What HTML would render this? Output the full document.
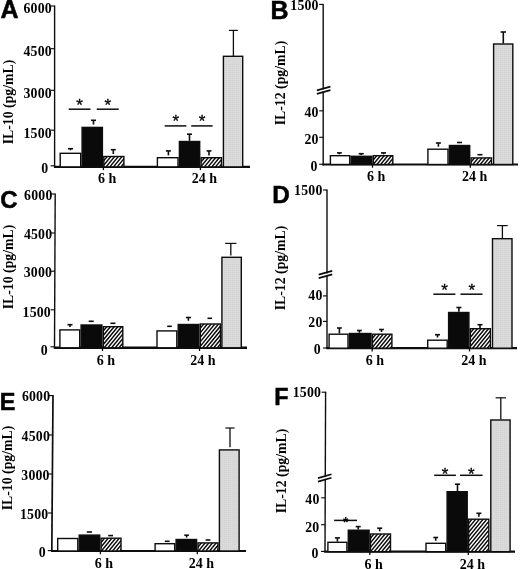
<!DOCTYPE html>
<html><head><meta charset="utf-8"><title>Figure</title>
<style>html,body{margin:0;padding:0;background:#fff;}svg{display:block;filter:grayscale(1) blur(0.3px)}</style></head>
<body>
<svg width="520" height="569" viewBox="0 0 520 569">
<defs>
<pattern id="hatch" width="2.86" height="2.86" patternUnits="userSpaceOnUse" patternTransform="rotate(-50)">
<rect width="2.86" height="2.86" fill="#fff"/><line x1="0" y1="1.43" x2="2.86" y2="1.43" stroke="#111" stroke-width="1.2"/></pattern>
<pattern id="dots" width="2" height="2" patternUnits="userSpaceOnUse">
<rect width="2" height="2" fill="#dadada"/><rect width="1" height="1" fill="#d2d2d2"/></pattern>
</defs>
<rect width="520" height="569" fill="#fff"/>
<g id="panel-A">
<text x="0.5" y="18.3" font-family="Liberation Sans, sans-serif" font-weight="bold" font-size="25" stroke="#000" stroke-width="0.5">A</text>
<line x1="54.6" y1="5.5" x2="54.6" y2="167.8" stroke="#0d0d0d" stroke-width="1.4"/>
<line x1="54" y1="166.9" x2="250" y2="166.9" stroke="#0d0d0d" stroke-width="2.2"/>
<line x1="50.6" y1="6" x2="54.6" y2="6" stroke="#0d0d0d" stroke-width="1.15"/>
<text x="51.9" y="13" font-family="Liberation Serif, serif" font-weight="bold" font-size="13.8" letter-spacing="0.2" text-anchor="end">6000</text>
<line x1="50.6" y1="48.7" x2="54.6" y2="48.7" stroke="#0d0d0d" stroke-width="1.15"/>
<text x="51.9" y="55.7" font-family="Liberation Serif, serif" font-weight="bold" font-size="13.8" letter-spacing="0.2" text-anchor="end">4500</text>
<line x1="50.6" y1="90.3" x2="54.6" y2="90.3" stroke="#0d0d0d" stroke-width="1.15"/>
<text x="51.9" y="98.1" font-family="Liberation Serif, serif" font-weight="bold" font-size="13.8" letter-spacing="0.2" text-anchor="end">3000</text>
<line x1="50.6" y1="130.2" x2="54.6" y2="130.2" stroke="#0d0d0d" stroke-width="1.15"/>
<text x="51.9" y="138.1" font-family="Liberation Serif, serif" font-weight="bold" font-size="13.8" letter-spacing="0.2" text-anchor="end">1500</text>
<line x1="50.6" y1="165.8" x2="54.6" y2="165.8" stroke="#0d0d0d" stroke-width="1.15"/>
<text x="48.4" y="173.1" font-family="Liberation Serif, serif" font-weight="bold" font-size="13.8" letter-spacing="0.2" text-anchor="end">0</text>
<rect x="60.2" y="153.3" width="20.5" height="13.6" fill="#fff" stroke="#0d0d0d" stroke-width="1.4"/>
<rect x="82.1" y="127.4" width="20.3" height="39.5" fill="#0a0a0a" stroke="#0d0d0d" stroke-width="1.4"/>
<clipPath id="c1"><rect x="103.8" y="156.5" width="20.1" height="10.4"/></clipPath>
<rect x="103.8" y="156.5" width="20.1" height="10.4" fill="#fff"/>
<path clip-path="url(#c1)" d="M91.28 166.9L100.4 155.8M94.98 166.9L104.1 155.8M98.68 166.9L107.8 155.8M102.38 166.9L111.5 155.8M106.08 166.9L115.2 155.8M109.78 166.9L118.9 155.8M113.48 166.9L122.6 155.8M117.18 166.9L126.3 155.8M120.88 166.9L130 155.8M124.58 166.9L133.7 155.8" stroke="#0d0d0d" stroke-width="1.45" fill="none"/>
<rect x="103.8" y="156.5" width="20.1" height="10.4" fill="none" stroke="#0d0d0d" stroke-width="1.4"/>
<rect x="157.4" y="157.7" width="20.6" height="9.2" fill="#fff" stroke="#0d0d0d" stroke-width="1.4"/>
<rect x="179.4" y="141.5" width="20.3" height="25.4" fill="#0a0a0a" stroke="#0d0d0d" stroke-width="1.4"/>
<clipPath id="c2"><rect x="201.1" y="157.7" width="20.4" height="9.2"/></clipPath>
<rect x="201.1" y="157.7" width="20.4" height="9.2" fill="#fff"/>
<path clip-path="url(#c2)" d="M189.57 166.9L197.7 157M193.27 166.9L201.4 157M196.97 166.9L205.1 157M200.67 166.9L208.8 157M204.37 166.9L212.5 157M208.07 166.9L216.2 157M211.77 166.9L219.9 157M215.47 166.9L223.6 157M219.17 166.9L227.3 157M222.87 166.9L231 157" stroke="#0d0d0d" stroke-width="1.45" fill="none"/>
<rect x="201.1" y="157.7" width="20.4" height="9.2" fill="none" stroke="#0d0d0d" stroke-width="1.4"/>
<rect x="223.4" y="56.3" width="19.3" height="110.6" fill="url(#dots)" stroke="#0d0d0d" stroke-width="1.4"/>
<line x1="70.5" y1="148.7" x2="70.5" y2="150.3" stroke="#0d0d0d" stroke-width="1.6"/>
<line x1="68" y1="148.7" x2="73" y2="148.7" stroke="#0d0d0d" stroke-width="1.6"/>
<line x1="93.5" y1="120.3" x2="93.5" y2="124.6" stroke="#0d0d0d" stroke-width="1.6"/>
<line x1="91" y1="120.3" x2="96" y2="120.3" stroke="#0d0d0d" stroke-width="1.6"/>
<line x1="113.3" y1="149.7" x2="113.3" y2="154" stroke="#0d0d0d" stroke-width="1.6"/>
<line x1="110.8" y1="149.7" x2="115.8" y2="149.7" stroke="#0d0d0d" stroke-width="1.6"/>
<line x1="168.4" y1="150.9" x2="168.4" y2="155.4" stroke="#0d0d0d" stroke-width="1.6"/>
<line x1="165.9" y1="150.9" x2="170.9" y2="150.9" stroke="#0d0d0d" stroke-width="1.6"/>
<line x1="189.5" y1="134.2" x2="189.5" y2="140.8" stroke="#0d0d0d" stroke-width="1.6"/>
<line x1="187" y1="134.2" x2="192" y2="134.2" stroke="#0d0d0d" stroke-width="1.6"/>
<line x1="209" y1="150.9" x2="209" y2="155.4" stroke="#0d0d0d" stroke-width="1.6"/>
<line x1="206.6" y1="150.9" x2="211.4" y2="150.9" stroke="#0d0d0d" stroke-width="1.6"/>
<line x1="233.4" y1="30.4" x2="233.4" y2="56" stroke="#0d0d0d" stroke-width="1.3"/>
<line x1="228.9" y1="30.4" x2="237.9" y2="30.4" stroke="#0d0d0d" stroke-width="1.2"/>
<line x1="103.4" y1="166.9" x2="103.4" y2="170.1" stroke="#0d0d0d" stroke-width="1.3"/>
<text x="107.2" y="183.3" font-family="Liberation Serif, serif" font-weight="bold" font-size="14" text-anchor="middle">6 h</text>
<line x1="200.4" y1="166.9" x2="200.4" y2="170.1" stroke="#0d0d0d" stroke-width="1.3"/>
<text x="204.5" y="183.3" font-family="Liberation Serif, serif" font-weight="bold" font-size="14" text-anchor="middle">24 h</text>
<line x1="68.7" y1="109.2" x2="90.5" y2="109.2" stroke="#0d0d0d" stroke-width="1.5"/>
<text x="79.6" y="111.3" font-family="Liberation Sans, sans-serif" font-size="17" stroke="#000" stroke-width="0.3" text-anchor="middle">*</text>
<line x1="96.7" y1="109.2" x2="118.7" y2="109.2" stroke="#0d0d0d" stroke-width="1.5"/>
<text x="107.8" y="111.3" font-family="Liberation Sans, sans-serif" font-size="17" stroke="#000" stroke-width="0.3" text-anchor="middle">*</text>
<line x1="164.7" y1="125.9" x2="186.4" y2="125.9" stroke="#0d0d0d" stroke-width="1.5"/>
<text x="175.9" y="126.8" font-family="Liberation Sans, sans-serif" font-size="17" stroke="#000" stroke-width="0.3" text-anchor="middle">*</text>
<line x1="191.2" y1="125.9" x2="212.6" y2="125.9" stroke="#0d0d0d" stroke-width="1.5"/>
<text x="202" y="126.8" font-family="Liberation Sans, sans-serif" font-size="17" stroke="#000" stroke-width="0.3" text-anchor="middle">*</text>
<text transform="translate(13,102) rotate(-90)" font-family="Liberation Serif, serif" font-weight="bold" font-size="13.8" text-anchor="middle">IL-10 (pg/mL)</text>
</g>
<g id="panel-B">
<text x="270.5" y="18.9" font-family="Liberation Sans, sans-serif" font-weight="bold" font-size="25" stroke="#000" stroke-width="0.5">B</text>
<line x1="323.2" y1="3.9" x2="323.2" y2="165.4" stroke="#0d0d0d" stroke-width="1.4"/>
<line x1="322.6" y1="164.5" x2="518" y2="164.5" stroke="#0d0d0d" stroke-width="2.2"/>
<line x1="319.2" y1="4.4" x2="323.2" y2="4.4" stroke="#0d0d0d" stroke-width="1.15"/>
<text x="318.7" y="10.1" font-family="Liberation Serif, serif" font-weight="bold" font-size="13.8" letter-spacing="0.2" text-anchor="end">1500</text>
<line x1="319.2" y1="110.8" x2="323.2" y2="110.8" stroke="#0d0d0d" stroke-width="1.15"/>
<text x="318.7" y="116.5" font-family="Liberation Serif, serif" font-weight="bold" font-size="13.8" letter-spacing="0.2" text-anchor="end">40</text>
<line x1="319.2" y1="137.3" x2="323.2" y2="137.3" stroke="#0d0d0d" stroke-width="1.15"/>
<text x="318.7" y="143.6" font-family="Liberation Serif, serif" font-weight="bold" font-size="13.8" letter-spacing="0.2" text-anchor="end">20</text>
<line x1="319.2" y1="164.3" x2="323.2" y2="164.3" stroke="#0d0d0d" stroke-width="1.15"/>
<text x="317.5" y="171" font-family="Liberation Serif, serif" font-weight="bold" font-size="13.8" letter-spacing="0.2" text-anchor="end">0</text>
<rect x="321.7" y="89.3" width="3" height="2.0" fill="#fff"/>
<line x1="316.9" y1="90.45" x2="330.4" y2="86.65" stroke="#0d0d0d" stroke-width="1.75"/>
<line x1="316.9" y1="93.95" x2="330.4" y2="90.15" stroke="#0d0d0d" stroke-width="1.75"/>
<rect x="330.4" y="155.7" width="19.3" height="8.8" fill="#fff" stroke="#0d0d0d" stroke-width="1.4"/>
<rect x="351.1" y="156.3" width="20.8" height="8.2" fill="#0a0a0a" stroke="#0d0d0d" stroke-width="1.4"/>
<clipPath id="c3"><rect x="373.3" y="155.7" width="19.5" height="8.8"/></clipPath>
<rect x="373.3" y="155.7" width="19.5" height="8.8" fill="#fff"/>
<path clip-path="url(#c3)" d="M362.1 164.5L369.9 155M365.8 164.5L373.6 155M369.5 164.5L377.3 155M373.2 164.5L381 155M376.9 164.5L384.7 155M380.6 164.5L388.4 155M384.3 164.5L392.1 155M388 164.5L395.8 155M391.7 164.5L399.5 155" stroke="#0d0d0d" stroke-width="1.45" fill="none"/>
<rect x="373.3" y="155.7" width="19.5" height="8.8" fill="none" stroke="#0d0d0d" stroke-width="1.4"/>
<rect x="427.9" y="149.2" width="20.1" height="15.3" fill="#fff" stroke="#0d0d0d" stroke-width="1.4"/>
<rect x="449.4" y="145.5" width="20.3" height="19" fill="#0a0a0a" stroke="#0d0d0d" stroke-width="1.4"/>
<clipPath id="c4"><rect x="471.1" y="157.9" width="20.4" height="6.6"/></clipPath>
<rect x="471.1" y="157.9" width="20.4" height="6.6" fill="#fff"/>
<path clip-path="url(#c4)" d="M461.7 164.5L467.7 157.2M465.4 164.5L471.4 157.2M469.1 164.5L475.1 157.2M472.8 164.5L478.8 157.2M476.5 164.5L482.5 157.2M480.2 164.5L486.2 157.2M483.9 164.5L489.9 157.2M487.6 164.5L493.6 157.2M491.3 164.5L497.3 157.2" stroke="#0d0d0d" stroke-width="1.45" fill="none"/>
<rect x="471.1" y="157.9" width="20.4" height="6.6" fill="none" stroke="#0d0d0d" stroke-width="1.4"/>
<rect x="493.6" y="44" width="19.2" height="120.5" fill="url(#dots)" stroke="#0d0d0d" stroke-width="1.4"/>
<line x1="339.4" y1="152.9" x2="339.4" y2="154.3" stroke="#0d0d0d" stroke-width="1.6"/>
<line x1="337" y1="152.9" x2="341.8" y2="152.9" stroke="#0d0d0d" stroke-width="1.6"/>
<line x1="361.2" y1="153.7" x2="361.2" y2="155" stroke="#0d0d0d" stroke-width="1.6"/>
<line x1="358.7" y1="153.7" x2="363.7" y2="153.7" stroke="#0d0d0d" stroke-width="1.6"/>
<line x1="383.5" y1="152.9" x2="383.5" y2="154.3" stroke="#0d0d0d" stroke-width="1.6"/>
<line x1="381" y1="152.9" x2="386" y2="152.9" stroke="#0d0d0d" stroke-width="1.6"/>
<line x1="438.4" y1="143" x2="438.4" y2="146.7" stroke="#0d0d0d" stroke-width="1.6"/>
<line x1="435.9" y1="143" x2="440.9" y2="143" stroke="#0d0d0d" stroke-width="1.6"/>
<line x1="457" y1="142.5" x2="462" y2="142.5" stroke="#0d0d0d" stroke-width="1.6"/>
<line x1="477.5" y1="154.7" x2="482.5" y2="154.7" stroke="#0d0d0d" stroke-width="1.6"/>
<line x1="503.3" y1="32" x2="503.3" y2="43.5" stroke="#0d0d0d" stroke-width="1.6"/>
<line x1="500.6" y1="32" x2="506" y2="32" stroke="#0d0d0d" stroke-width="1.6"/>
<line x1="372.5" y1="164.5" x2="372.5" y2="167.7" stroke="#0d0d0d" stroke-width="1.3"/>
<text x="376.2" y="180.9" font-family="Liberation Serif, serif" font-weight="bold" font-size="14" text-anchor="middle">6 h</text>
<line x1="470.3" y1="164.5" x2="470.3" y2="167.7" stroke="#0d0d0d" stroke-width="1.3"/>
<text x="474.6" y="180.9" font-family="Liberation Serif, serif" font-weight="bold" font-size="14" text-anchor="middle">24 h</text>
<text transform="translate(285,83) rotate(-90)" font-family="Liberation Serif, serif" font-weight="bold" font-size="13.8" text-anchor="middle">IL-12 (pg/mL)</text>
</g>
<g id="panel-C">
<text x="0.2" y="207.6" font-family="Liberation Sans, sans-serif" font-weight="bold" font-size="24" stroke="#000" stroke-width="0.5">C</text>
<line x1="55.2" y1="193.5" x2="54.5" y2="348.7" stroke="#0d0d0d" stroke-width="1.4"/>
<line x1="53.9" y1="347.8" x2="247" y2="347.8" stroke="#0d0d0d" stroke-width="2.4"/>
<line x1="51.2" y1="194" x2="55.2" y2="194" stroke="#0d0d0d" stroke-width="1.15"/>
<text x="52.5" y="199.6" font-family="Liberation Serif, serif" font-weight="bold" font-size="13.8" letter-spacing="0.2" text-anchor="end">6000</text>
<line x1="51.02" y1="233" x2="55.02" y2="233" stroke="#0d0d0d" stroke-width="1.15"/>
<text x="52.32" y="238.6" font-family="Liberation Serif, serif" font-weight="bold" font-size="13.8" letter-spacing="0.2" text-anchor="end">4500</text>
<line x1="50.85" y1="271.2" x2="54.85" y2="271.2" stroke="#0d0d0d" stroke-width="1.15"/>
<text x="52.15" y="277.4" font-family="Liberation Serif, serif" font-weight="bold" font-size="13.8" letter-spacing="0.2" text-anchor="end">3000</text>
<line x1="50.67" y1="309.8" x2="54.67" y2="309.8" stroke="#0d0d0d" stroke-width="1.15"/>
<text x="50.97" y="316.7" font-family="Liberation Serif, serif" font-weight="bold" font-size="13.8" letter-spacing="0.2" text-anchor="end">1500</text>
<line x1="50.5" y1="346.8" x2="54.5" y2="346.8" stroke="#0d0d0d" stroke-width="1.15"/>
<text x="47.8" y="354.6" font-family="Liberation Serif, serif" font-weight="bold" font-size="13.8" letter-spacing="0.2" text-anchor="end">0</text>
<rect x="59.9" y="329.9" width="19.8" height="17.9" fill="#fff" stroke="#0d0d0d" stroke-width="1.4"/>
<rect x="81.1" y="325" width="20.8" height="22.8" fill="#0a0a0a" stroke="#0d0d0d" stroke-width="1.4"/>
<clipPath id="c5"><rect x="103.3" y="326.7" width="19.5" height="21.1"/></clipPath>
<rect x="103.3" y="326.7" width="19.5" height="21.1" fill="#fff"/>
<path clip-path="url(#c5)" d="M81.99 347.8L99.9 326M85.69 347.8L103.6 326M89.39 347.8L107.3 326M93.09 347.8L111 326M96.79 347.8L114.7 326M100.49 347.8L118.4 326M104.19 347.8L122.1 326M107.89 347.8L125.8 326M111.59 347.8L129.5 326M115.29 347.8L133.2 326M118.99 347.8L136.9 326M122.69 347.8L140.6 326" stroke="#0d0d0d" stroke-width="1.45" fill="none"/>
<rect x="103.3" y="326.7" width="19.5" height="21.1" fill="none" stroke="#0d0d0d" stroke-width="1.4"/>
<rect x="157" y="330.9" width="19.8" height="16.9" fill="#fff" stroke="#0d0d0d" stroke-width="1.4"/>
<rect x="178.2" y="324.5" width="20.7" height="23.3" fill="#0a0a0a" stroke="#0d0d0d" stroke-width="1.4"/>
<clipPath id="c6"><rect x="200.3" y="324" width="20.2" height="23.8"/></clipPath>
<rect x="200.3" y="324" width="20.2" height="23.8" fill="#fff"/>
<path clip-path="url(#c6)" d="M176.78 347.8L196.9 323.3M180.48 347.8L200.6 323.3M184.18 347.8L204.3 323.3M187.88 347.8L208 323.3M191.58 347.8L211.7 323.3M195.28 347.8L215.4 323.3M198.98 347.8L219.1 323.3M202.68 347.8L222.8 323.3M206.38 347.8L226.5 323.3M210.08 347.8L230.2 323.3M213.78 347.8L233.9 323.3M217.48 347.8L237.6 323.3M221.18 347.8L241.3 323.3" stroke="#0d0d0d" stroke-width="1.45" fill="none"/>
<rect x="200.3" y="324" width="20.2" height="23.8" fill="none" stroke="#0d0d0d" stroke-width="1.4"/>
<rect x="221.9" y="257.3" width="19.4" height="90.5" fill="url(#dots)" stroke="#0d0d0d" stroke-width="1.4"/>
<line x1="70" y1="324.7" x2="70" y2="327" stroke="#0d0d0d" stroke-width="1.6"/>
<line x1="67.5" y1="324.7" x2="72.5" y2="324.7" stroke="#0d0d0d" stroke-width="1.6"/>
<line x1="88.7" y1="321.3" x2="93.7" y2="321.3" stroke="#0d0d0d" stroke-width="1.6"/>
<line x1="110.4" y1="323.3" x2="115.4" y2="323.3" stroke="#0d0d0d" stroke-width="1.6"/>
<line x1="167.2" y1="326.3" x2="171.8" y2="326.3" stroke="#0d0d0d" stroke-width="1.6"/>
<line x1="188.4" y1="317.5" x2="188.4" y2="320.8" stroke="#0d0d0d" stroke-width="1.6"/>
<line x1="185.9" y1="317.5" x2="190.9" y2="317.5" stroke="#0d0d0d" stroke-width="1.6"/>
<line x1="207.5" y1="318.3" x2="212.1" y2="318.3" stroke="#0d0d0d" stroke-width="1.6"/>
<line x1="230.8" y1="243.4" x2="230.8" y2="255.5" stroke="#0d0d0d" stroke-width="1.3"/>
<line x1="225.2" y1="243.4" x2="236.4" y2="243.4" stroke="#0d0d0d" stroke-width="1.2"/>
<line x1="102.5" y1="347.8" x2="102.5" y2="351" stroke="#0d0d0d" stroke-width="1.3"/>
<text x="105.9" y="365.3" font-family="Liberation Serif, serif" font-weight="bold" font-size="14" text-anchor="middle">6 h</text>
<line x1="199.5" y1="347.8" x2="199.5" y2="351" stroke="#0d0d0d" stroke-width="1.3"/>
<text x="202.9" y="365.3" font-family="Liberation Serif, serif" font-weight="bold" font-size="14" text-anchor="middle">24 h</text>
<text transform="translate(13,267) rotate(-90)" font-family="Liberation Serif, serif" font-weight="bold" font-size="13.8" text-anchor="middle">IL-10 (pg/mL)</text>
</g>
<g id="panel-D">
<text x="272.2" y="203.3" font-family="Liberation Sans, sans-serif" font-weight="bold" font-size="24.3" stroke="#000" stroke-width="0.5">D</text>
<line x1="327" y1="189.5" x2="327" y2="349.1" stroke="#0d0d0d" stroke-width="1.4"/>
<line x1="326.4" y1="348.2" x2="517" y2="348.2" stroke="#0d0d0d" stroke-width="2.2"/>
<line x1="323" y1="190" x2="327" y2="190" stroke="#0d0d0d" stroke-width="1.15"/>
<text x="322.5" y="194.5" font-family="Liberation Serif, serif" font-weight="bold" font-size="13.8" letter-spacing="0.2" text-anchor="end">1500</text>
<line x1="323" y1="295.9" x2="327" y2="295.9" stroke="#0d0d0d" stroke-width="1.15"/>
<text x="322.5" y="300.1" font-family="Liberation Serif, serif" font-weight="bold" font-size="13.8" letter-spacing="0.2" text-anchor="end">40</text>
<line x1="323" y1="321.4" x2="327" y2="321.4" stroke="#0d0d0d" stroke-width="1.15"/>
<text x="322.5" y="327.1" font-family="Liberation Serif, serif" font-weight="bold" font-size="13.8" letter-spacing="0.2" text-anchor="end">20</text>
<line x1="323" y1="348" x2="327" y2="348" stroke="#0d0d0d" stroke-width="1.15"/>
<text x="320.8" y="353.7" font-family="Liberation Serif, serif" font-weight="bold" font-size="13.8" letter-spacing="0.2" text-anchor="end">0</text>
<rect x="325.5" y="273.5" width="3" height="2.0" fill="#fff"/>
<line x1="318.7" y1="274.65" x2="332.2" y2="270.85" stroke="#0d0d0d" stroke-width="1.75"/>
<line x1="318.7" y1="278.15" x2="332.2" y2="274.35" stroke="#0d0d0d" stroke-width="1.75"/>
<rect x="329.1" y="334.2" width="18.9" height="14" fill="#fff" stroke="#0d0d0d" stroke-width="1.4"/>
<rect x="349.4" y="333.5" width="21.6" height="14.7" fill="#0a0a0a" stroke="#0d0d0d" stroke-width="1.4"/>
<clipPath id="c7"><rect x="372.4" y="334.2" width="19.5" height="14"/></clipPath>
<rect x="372.4" y="334.2" width="19.5" height="14" fill="#fff"/>
<path clip-path="url(#c7)" d="M356.93 348.2L369 333.5M360.63 348.2L372.7 333.5M364.33 348.2L376.4 333.5M368.03 348.2L380.1 333.5M371.73 348.2L383.8 333.5M375.43 348.2L387.5 333.5M379.13 348.2L391.2 333.5M382.83 348.2L394.9 333.5M386.53 348.2L398.6 333.5M390.23 348.2L402.3 333.5" stroke="#0d0d0d" stroke-width="1.45" fill="none"/>
<rect x="372.4" y="334.2" width="19.5" height="14" fill="none" stroke="#0d0d0d" stroke-width="1.4"/>
<rect x="427.7" y="340.2" width="19.5" height="8" fill="#fff" stroke="#0d0d0d" stroke-width="1.4"/>
<rect x="448.6" y="312.5" width="20.3" height="35.7" fill="#0a0a0a" stroke="#0d0d0d" stroke-width="1.4"/>
<clipPath id="c8"><rect x="470.3" y="328.7" width="20.1" height="19.5"/></clipPath>
<rect x="470.3" y="328.7" width="20.1" height="19.5" fill="#fff"/>
<path clip-path="url(#c8)" d="M450.31 348.2L466.9 328M454.01 348.2L470.6 328M457.71 348.2L474.3 328M461.41 348.2L478 328M465.11 348.2L481.7 328M468.81 348.2L485.4 328M472.51 348.2L489.1 328M476.21 348.2L492.8 328M479.91 348.2L496.5 328M483.61 348.2L500.2 328M487.31 348.2L503.9 328M491.01 348.2L507.6 328" stroke="#0d0d0d" stroke-width="1.45" fill="none"/>
<rect x="470.3" y="328.7" width="20.1" height="19.5" fill="none" stroke="#0d0d0d" stroke-width="1.4"/>
<rect x="492.5" y="238.7" width="19.5" height="109.5" fill="url(#dots)" stroke="#0d0d0d" stroke-width="1.4"/>
<line x1="339.4" y1="328" x2="339.4" y2="333.5" stroke="#0d0d0d" stroke-width="1.6"/>
<line x1="337" y1="328" x2="341.8" y2="328" stroke="#0d0d0d" stroke-width="1.6"/>
<line x1="359.4" y1="330.5" x2="359.4" y2="332.8" stroke="#0d0d0d" stroke-width="1.6"/>
<line x1="357" y1="330.5" x2="361.8" y2="330.5" stroke="#0d0d0d" stroke-width="1.6"/>
<line x1="381.5" y1="329.5" x2="381.5" y2="332" stroke="#0d0d0d" stroke-width="1.6"/>
<line x1="379.1" y1="329.5" x2="383.9" y2="329.5" stroke="#0d0d0d" stroke-width="1.6"/>
<line x1="437.5" y1="334.7" x2="437.5" y2="337.5" stroke="#0d0d0d" stroke-width="1.6"/>
<line x1="435" y1="334.7" x2="440" y2="334.7" stroke="#0d0d0d" stroke-width="1.6"/>
<line x1="458.9" y1="307.5" x2="458.9" y2="311.8" stroke="#0d0d0d" stroke-width="1.6"/>
<line x1="456.4" y1="307.5" x2="461.4" y2="307.5" stroke="#0d0d0d" stroke-width="1.6"/>
<line x1="480" y1="324.7" x2="480" y2="328" stroke="#0d0d0d" stroke-width="1.6"/>
<line x1="477.5" y1="324.7" x2="482.5" y2="324.7" stroke="#0d0d0d" stroke-width="1.6"/>
<line x1="502.4" y1="225.6" x2="502.4" y2="238" stroke="#0d0d0d" stroke-width="1.3"/>
<line x1="497.1" y1="225.6" x2="507.7" y2="225.6" stroke="#0d0d0d" stroke-width="1.2"/>
<line x1="372.2" y1="348.2" x2="372.2" y2="351.4" stroke="#0d0d0d" stroke-width="1.3"/>
<text x="375" y="364.6" font-family="Liberation Serif, serif" font-weight="bold" font-size="14" text-anchor="middle">6 h</text>
<line x1="469.5" y1="348.2" x2="469.5" y2="351.4" stroke="#0d0d0d" stroke-width="1.3"/>
<text x="473.8" y="364.6" font-family="Liberation Serif, serif" font-weight="bold" font-size="14" text-anchor="middle">24 h</text>
<line x1="433.3" y1="294.2" x2="455.4" y2="294.2" stroke="#0d0d0d" stroke-width="1.5"/>
<text x="444.5" y="295.8" font-family="Liberation Sans, sans-serif" font-size="17" stroke="#000" stroke-width="0.3" text-anchor="middle">*</text>
<line x1="460.4" y1="294.2" x2="482.5" y2="294.2" stroke="#0d0d0d" stroke-width="1.5"/>
<text x="471.7" y="295.8" font-family="Liberation Sans, sans-serif" font-size="17" stroke="#000" stroke-width="0.3" text-anchor="middle">*</text>
<text transform="translate(285,268) rotate(-90)" font-family="Liberation Serif, serif" font-weight="bold" font-size="13.8" text-anchor="middle">IL-12 (pg/mL)</text>
</g>
<g id="panel-E">
<text x="-0.2" y="409.7" font-family="Liberation Sans, sans-serif" font-weight="bold" font-size="23.5" stroke="#000" stroke-width="0.5">E</text>
<line x1="53" y1="395.1" x2="51.8" y2="551.9" stroke="#0d0d0d" stroke-width="1.7"/>
<line x1="51.2" y1="551" x2="246" y2="551" stroke="#0d0d0d" stroke-width="2.2"/>
<line x1="49" y1="395.6" x2="53" y2="395.6" stroke="#0d0d0d" stroke-width="1.15"/>
<text x="50.3" y="400.8" font-family="Liberation Serif, serif" font-weight="bold" font-size="13.8" letter-spacing="0.2" text-anchor="end">6000</text>
<line x1="48.7" y1="435" x2="52.7" y2="435" stroke="#0d0d0d" stroke-width="1.15"/>
<text x="50" y="440.7" font-family="Liberation Serif, serif" font-weight="bold" font-size="13.8" letter-spacing="0.2" text-anchor="end">4500</text>
<line x1="48.39" y1="474" x2="52.39" y2="474" stroke="#0d0d0d" stroke-width="1.15"/>
<text x="49.69" y="480.4" font-family="Liberation Serif, serif" font-weight="bold" font-size="13.8" letter-spacing="0.2" text-anchor="end">3000</text>
<line x1="48.09" y1="513" x2="52.09" y2="513" stroke="#0d0d0d" stroke-width="1.15"/>
<text x="48.39" y="519.1" font-family="Liberation Serif, serif" font-weight="bold" font-size="13.8" letter-spacing="0.2" text-anchor="end">1500</text>
<line x1="47.8" y1="550.6" x2="51.8" y2="550.6" stroke="#0d0d0d" stroke-width="1.15"/>
<text x="45.8" y="556.8" font-family="Liberation Serif, serif" font-weight="bold" font-size="13.8" letter-spacing="0.2" text-anchor="end">0</text>
<rect x="57.7" y="538.5" width="20.1" height="12.5" fill="#fff" stroke="#0d0d0d" stroke-width="1.4"/>
<rect x="79.2" y="535.1" width="20.5" height="15.9" fill="#0a0a0a" stroke="#0d0d0d" stroke-width="1.4"/>
<clipPath id="c9"><rect x="101.1" y="538.2" width="19.9" height="12.8"/></clipPath>
<rect x="101.1" y="538.2" width="19.9" height="12.8" fill="#fff"/>
<path clip-path="url(#c9)" d="M86.61 551L97.7 537.5M90.31 551L101.4 537.5M94.01 551L105.1 537.5M97.71 551L108.8 537.5M101.41 551L112.5 537.5M105.11 551L116.2 537.5M108.81 551L119.9 537.5M112.51 551L123.6 537.5M116.21 551L127.3 537.5M119.91 551L131 537.5" stroke="#0d0d0d" stroke-width="1.45" fill="none"/>
<rect x="101.1" y="538.2" width="19.9" height="12.8" fill="none" stroke="#0d0d0d" stroke-width="1.4"/>
<rect x="155.1" y="543.7" width="19.6" height="7.3" fill="#fff" stroke="#0d0d0d" stroke-width="1.4"/>
<rect x="176.1" y="539.5" width="20.5" height="11.5" fill="#0a0a0a" stroke="#0d0d0d" stroke-width="1.4"/>
<clipPath id="c10"><rect x="198" y="542.9" width="20" height="8.1"/></clipPath>
<rect x="198" y="542.9" width="20" height="8.1" fill="#fff"/>
<path clip-path="url(#c10)" d="M187.37 551L194.6 542.2M191.07 551L198.3 542.2M194.77 551L202 542.2M198.47 551L205.7 542.2M202.17 551L209.4 542.2M205.87 551L213.1 542.2M209.57 551L216.8 542.2M213.27 551L220.5 542.2M216.97 551L224.2 542.2" stroke="#0d0d0d" stroke-width="1.45" fill="none"/>
<rect x="198" y="542.9" width="20" height="8.1" fill="none" stroke="#0d0d0d" stroke-width="1.4"/>
<rect x="219.4" y="449.9" width="19.7" height="101.1" fill="url(#dots)" stroke="#0d0d0d" stroke-width="1.4"/>
<line x1="86.8" y1="532" x2="92" y2="532" stroke="#0d0d0d" stroke-width="1.6"/>
<line x1="108.2" y1="535.6" x2="113" y2="535.6" stroke="#0d0d0d" stroke-width="1.6"/>
<line x1="164.8" y1="541.3" x2="169.6" y2="541.3" stroke="#0d0d0d" stroke-width="1.6"/>
<line x1="186.6" y1="535.2" x2="186.6" y2="537.6" stroke="#0d0d0d" stroke-width="1.6"/>
<line x1="184.3" y1="535.2" x2="188.9" y2="535.2" stroke="#0d0d0d" stroke-width="1.6"/>
<line x1="205.6" y1="540" x2="210.4" y2="540" stroke="#0d0d0d" stroke-width="1.6"/>
<line x1="230" y1="428" x2="230" y2="447.3" stroke="#0d0d0d" stroke-width="1.3"/>
<line x1="225.4" y1="428" x2="234.6" y2="428" stroke="#0d0d0d" stroke-width="1.2"/>
<line x1="100.4" y1="551" x2="100.4" y2="554.2" stroke="#0d0d0d" stroke-width="1.3"/>
<text x="104" y="568.4" font-family="Liberation Serif, serif" font-weight="bold" font-size="14" text-anchor="middle">6 h</text>
<line x1="197.3" y1="551" x2="197.3" y2="554.2" stroke="#0d0d0d" stroke-width="1.3"/>
<text x="201.5" y="568.4" font-family="Liberation Serif, serif" font-weight="bold" font-size="14" text-anchor="middle">24 h</text>
<text transform="translate(11.8,468) rotate(-90)" font-family="Liberation Serif, serif" font-weight="bold" font-size="13.8" text-anchor="middle">IL-10 (pg/mL)</text>
</g>
<g id="panel-F">
<text x="274.2" y="405.3" font-family="Liberation Sans, sans-serif" font-weight="bold" font-size="23.3" stroke="#000" stroke-width="0.5">F</text>
<line x1="325.6" y1="391.7" x2="325" y2="552.6" stroke="#0d0d0d" stroke-width="1.4"/>
<line x1="324.4" y1="551.7" x2="515" y2="551.7" stroke="#0d0d0d" stroke-width="2.2"/>
<line x1="321.6" y1="392.2" x2="325.6" y2="392.2" stroke="#0d0d0d" stroke-width="1.15"/>
<text x="321.1" y="396.7" font-family="Liberation Serif, serif" font-weight="bold" font-size="13.8" letter-spacing="0.2" text-anchor="end">1500</text>
<line x1="321.2" y1="497.8" x2="325.2" y2="497.8" stroke="#0d0d0d" stroke-width="1.15"/>
<text x="319.5" y="503.5" font-family="Liberation Serif, serif" font-weight="bold" font-size="13.8" letter-spacing="0.2" text-anchor="end">40</text>
<line x1="321.1" y1="524.7" x2="325.1" y2="524.7" stroke="#0d0d0d" stroke-width="1.15"/>
<text x="319.4" y="531.6" font-family="Liberation Serif, serif" font-weight="bold" font-size="13.8" letter-spacing="0.2" text-anchor="end">20</text>
<line x1="321" y1="551.4" x2="325" y2="551.4" stroke="#0d0d0d" stroke-width="1.15"/>
<text x="318.7" y="558.1" font-family="Liberation Serif, serif" font-weight="bold" font-size="13.8" letter-spacing="0.2" text-anchor="end">0</text>
<rect x="324.1" y="476.9" width="3" height="2.0" fill="#fff"/>
<line x1="318" y1="478.05" x2="331.5" y2="474.25" stroke="#0d0d0d" stroke-width="1.75"/>
<line x1="318" y1="481.55" x2="331.5" y2="477.75" stroke="#0d0d0d" stroke-width="1.75"/>
<rect x="327.9" y="542.3" width="19" height="9.4" fill="#fff" stroke="#0d0d0d" stroke-width="1.4"/>
<rect x="348.3" y="530.2" width="20.8" height="21.5" fill="#0a0a0a" stroke="#0d0d0d" stroke-width="1.4"/>
<clipPath id="c11"><rect x="370.5" y="534" width="20" height="17.7"/></clipPath>
<rect x="370.5" y="534" width="20" height="17.7" fill="#fff"/>
<path clip-path="url(#c11)" d="M351.99 551.7L367.1 533.3M355.69 551.7L370.8 533.3M359.39 551.7L374.5 533.3M363.09 551.7L378.2 533.3M366.79 551.7L381.9 533.3M370.49 551.7L385.6 533.3M374.19 551.7L389.3 533.3M377.89 551.7L393 533.3M381.59 551.7L396.7 533.3M385.29 551.7L400.4 533.3M388.99 551.7L404.1 533.3" stroke="#0d0d0d" stroke-width="1.45" fill="none"/>
<rect x="370.5" y="534" width="20" height="17.7" fill="none" stroke="#0d0d0d" stroke-width="1.4"/>
<rect x="426" y="543.3" width="19.7" height="8.4" fill="#fff" stroke="#0d0d0d" stroke-width="1.4"/>
<rect x="447.1" y="491.7" width="20.1" height="60" fill="#0a0a0a" stroke="#0d0d0d" stroke-width="1.4"/>
<clipPath id="c12"><rect x="468.6" y="519.2" width="20.2" height="32.5"/></clipPath>
<rect x="468.6" y="519.2" width="20.2" height="32.5" fill="#fff"/>
<path clip-path="url(#c12)" d="M437.93 551.7L465.2 518.5M441.63 551.7L468.9 518.5M445.33 551.7L472.6 518.5M449.03 551.7L476.3 518.5M452.73 551.7L480 518.5M456.43 551.7L483.7 518.5M460.13 551.7L487.4 518.5M463.83 551.7L491.1 518.5M467.53 551.7L494.8 518.5M471.23 551.7L498.5 518.5M474.93 551.7L502.2 518.5M478.63 551.7L505.9 518.5M482.33 551.7L509.6 518.5M486.03 551.7L513.3 518.5M489.73 551.7L517 518.5" stroke="#0d0d0d" stroke-width="1.45" fill="none"/>
<rect x="468.6" y="519.2" width="20.2" height="32.5" fill="none" stroke="#0d0d0d" stroke-width="1.4"/>
<rect x="490.8" y="420" width="19.3" height="131.7" fill="url(#dots)" stroke="#0d0d0d" stroke-width="1.4"/>
<line x1="337.4" y1="537.9" x2="337.4" y2="541.6" stroke="#0d0d0d" stroke-width="1.6"/>
<line x1="334.9" y1="537.9" x2="339.9" y2="537.9" stroke="#0d0d0d" stroke-width="1.6"/>
<line x1="358.2" y1="526.6" x2="358.2" y2="529.5" stroke="#0d0d0d" stroke-width="1.6"/>
<line x1="355.7" y1="526.6" x2="360.7" y2="526.6" stroke="#0d0d0d" stroke-width="1.6"/>
<line x1="379.7" y1="528.2" x2="379.7" y2="531.3" stroke="#0d0d0d" stroke-width="1.6"/>
<line x1="377.2" y1="528.2" x2="382.2" y2="528.2" stroke="#0d0d0d" stroke-width="1.6"/>
<line x1="435.7" y1="537.5" x2="435.7" y2="540.8" stroke="#0d0d0d" stroke-width="1.6"/>
<line x1="433.3" y1="537.5" x2="438.1" y2="537.5" stroke="#0d0d0d" stroke-width="1.6"/>
<line x1="457.5" y1="484.2" x2="457.5" y2="491" stroke="#0d0d0d" stroke-width="1.6"/>
<line x1="455" y1="484.2" x2="460" y2="484.2" stroke="#0d0d0d" stroke-width="1.6"/>
<line x1="478.9" y1="513.3" x2="478.9" y2="516.7" stroke="#0d0d0d" stroke-width="1.6"/>
<line x1="476.4" y1="513.3" x2="481.4" y2="513.3" stroke="#0d0d0d" stroke-width="1.6"/>
<line x1="500.8" y1="397.8" x2="500.8" y2="419.5" stroke="#0d0d0d" stroke-width="1.3"/>
<line x1="495.6" y1="397.8" x2="506" y2="397.8" stroke="#0d0d0d" stroke-width="1.2"/>
<line x1="369.8" y1="551.7" x2="369.8" y2="554.9" stroke="#0d0d0d" stroke-width="1.3"/>
<text x="373.7" y="568.8" font-family="Liberation Serif, serif" font-weight="bold" font-size="14" text-anchor="middle">6 h</text>
<line x1="468.3" y1="551.7" x2="468.3" y2="554.9" stroke="#0d0d0d" stroke-width="1.3"/>
<text x="472.5" y="568.8" font-family="Liberation Serif, serif" font-weight="bold" font-size="14" text-anchor="middle">24 h</text>
<line x1="334.1" y1="520.4" x2="357" y2="520.4" stroke="#0d0d0d" stroke-width="1.5"/>
<text x="345.8" y="527.14" font-family="Liberation Sans, sans-serif" font-size="14" font-weight="bold" text-anchor="middle">*</text>
<line x1="434.2" y1="475.3" x2="455.9" y2="475.3" stroke="#0d0d0d" stroke-width="1.5"/>
<text x="445" y="480.1" font-family="Liberation Sans, sans-serif" font-size="17" stroke="#000" stroke-width="0.3" text-anchor="middle">*</text>
<line x1="460" y1="475.3" x2="482.6" y2="475.3" stroke="#0d0d0d" stroke-width="1.5"/>
<text x="471.2" y="480.1" font-family="Liberation Sans, sans-serif" font-size="17" stroke="#000" stroke-width="0.3" text-anchor="middle">*</text>
<text transform="translate(285.5,471) rotate(-90)" font-family="Liberation Serif, serif" font-weight="bold" font-size="13.8" text-anchor="middle">IL-12 (pg/mL)</text>
</g>
</svg></body></html>
